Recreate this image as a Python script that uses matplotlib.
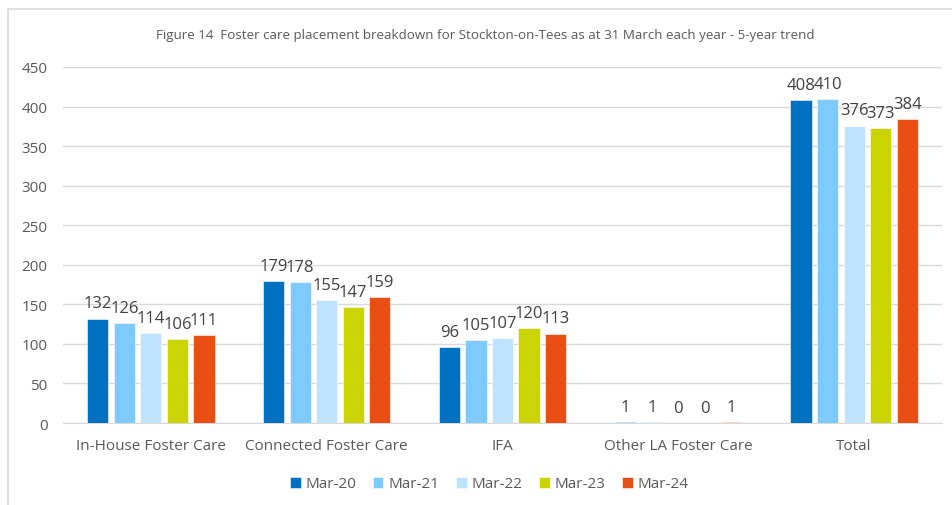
import numpy as np
import matplotlib.pyplot as plt
from matplotlib.patches import Rectangle

# дані
categories = ["In-House Foster Care", "Connected Foster Care", "IFA",
              "Other LA Foster Care", "Total"]
series_names = ["Mar-20", "Mar-21", "Mar-22", "Mar-23", "Mar-24"]
mar20 = [132, 179, 96, 1, 408]
mar21 = [126, 178, 105, 1, 410]
mar22 = [114, 155, 107, 0, 376]
mar23 = [106, 147, 120, 0, 373]
mar24 = [111, 159, 113, 1, 384]
colors = ["#0070C0", "#7FCAFD", "#BFE3FF", "#CBD300", "#E94E12"]

plt.rcParams['font.family'] = ['Open Sans', 'DejaVu Sans']

fig = plt.figure(figsize=(9.53, 5.06), dpi=100)
ax = fig.add_axes([63 / 953, 1 - 424 / 506, 879 / 953, 356 / 506])

# рамка
fig.patches.append(Rectangle((8 / 953, -0.05), 1.0, 1 - 10 / 506 + 0.05,
                             transform=fig.transFigure, fill=False,
                             edgecolor="#d9d9d9", lw=1.2))

x = np.arange(len(categories))
pitch = 0.151
width = 0.12
all_series = [mar20, mar21, mar22, mar23, mar24]
for i, (vals, name, c) in enumerate(zip(all_series, series_names, colors)):
    pos = x + (i - 2) * pitch
    ax.bar(pos, vals, width=width, color=c, label=name, zorder=3,
           edgecolor="white", linewidth=0.4)
    for px, v in zip(pos, vals):
        ax.text(px, v + 9, str(v), ha='center', va='bottom',
                fontsize=12, color="#404040")

ax.set_xlim(-0.5, len(categories) - 0.5)
ax.set_ylim(0, 450)
ax.set_yticks(range(0, 451, 50))
ax.set_xticks(x)
ax.set_xticklabels(categories)
ax.grid(axis='y', color="#d9d9d9", lw=1, zorder=0)
for s in ['top', 'right', 'left']:
    ax.spines[s].set_visible(False)
ax.spines['bottom'].set_color("#d9d9d9")
ax.tick_params(length=0, labelsize=11, colors="#595959")
ax.tick_params(axis='x', pad=11)
ax.tick_params(axis='y', pad=11)

fig.text(485 / 953, 1 - 35 / 506,
         "Figure 14  Foster care placement breakdown for Stockton-on-Tees as at 31 March each year - 5-year trend",
         ha='center', va='center', fontsize=9.6, color="#595959")

fig.legend(loc='center', bbox_to_anchor=(489 / 953, 1 - 485 / 506), ncol=5,
           frameon=False, fontsize=11, handlelength=0.7, handleheight=0.7,
           handletextpad=0.3, columnspacing=1.1, labelcolor="#595959")

plt.savefig("out.png", dpi=100)
